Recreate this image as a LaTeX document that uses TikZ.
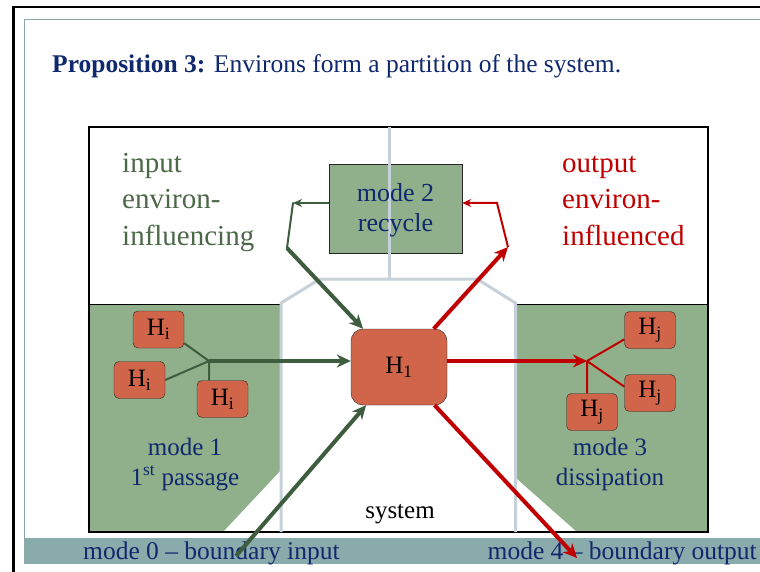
\documentclass[tikz,border=0pt]{standalone}
\usepackage{fontspec}
\setmainfont{Liberation Serif}
\usetikzlibrary{arrows.meta}

\definecolor{envgreen}{RGB}{143,176,139}
\definecolor{hred}{RGB}{209,101,74}
\definecolor{navy}{RGB}{16,40,110}
\definecolor{flowgreen}{RGB}{62,92,62}
\definecolor{txtgreen}{RGB}{76,104,72}
\definecolor{flowred}{RGB}{192,0,0}
\definecolor{bandteal}{RGB}{138,171,171}
\definecolor{sysgrey}{RGB}{198,209,217}
\definecolor{framegrey}{RGB}{140,166,166}

\tikzset{
	hbox/.style={draw=black!85, fill=hred, rounded corners=5pt, minimum width=51pt, minimum height=37pt, inner sep=0pt, font=\fontsize{25}{30}\selectfont},
	modebox/.style={draw=black!85, fill=envgreen, minimum width=133pt, minimum height=89pt},
	flowG/.style={draw=flowgreen, line width=4pt},
	thinG/.style={draw=flowgreen, line width=2pt},
	flowR/.style={draw=flowred, line width=4pt},
	thinR/.style={draw=flowred, line width=2pt},
	syswall/.style={draw=sysgrey, line width=3pt},
	modelabel/.style={text=navy, align=center, inner sep=0pt, anchor=base, font=\fontsize{25}{29.5}\selectfont},
	envlabel/.style={align=left, inner sep=0pt, anchor=base west, font=\fontsize{29}{36.5}\selectfont},
	bigtip/.tip={Stealth[length=14pt, width=13pt]},
	smalltip/.tip={Stealth[length=9pt, width=8pt]}
}

\begin{document}
\begin{tikzpicture}[x=1pt, y=-1pt]
		%%%%% START %%%%%
		\useasboundingbox (0,0) rectangle (760,572);
		
		% slide frame and bottom band
		\draw[line width=2.7pt] (13.5,572) -- (13.5,7) -- (760,7);
		\draw[framegrey, line width=1.5pt] (24.5,538) -- (24.5,19.5) -- (760,19.5);
		\fill[bandteal] (24,538) rectangle (760,564);
		
		\node[anchor=base west, inner sep=0pt, text=navy, font=\fontsize{25.5}{30}\selectfont] (title) at (52,73) {\textbf{Proposition 3:} Environs form a partition of the system.};
		
		% environs
		\fill[envgreen] (89,304) -- (281,304) -- (281,470) -- (223,532) -- (89,532) -- cycle;
		\fill[envgreen] (516,304) -- (708,304) -- (708,532) -- (577,532) -- (516,478) -- cycle;
		\draw[line width=1.2pt] (89,127) rectangle (708,532);
		\draw[line width=1pt] (89,304) -- (281,304) (516,304) -- (708,304);
		
		\node[modebox] (m2) at (395.5,208.5) {};
		
		% system walls
		\draw[syswall] (281,532) -- (281,303) -- (320,279) -- (477,279) -- (515.5,303) -- (515.5,532);
		\draw[syswall] (389.5,127) -- (389.5,279);
		
		\node[modelabel, font=\fontsize{26}{29}\selectfont] (m2lab) at (395.5,231) {mode 2\\recycle};
		\node[envlabel, text=txtgreen] (inlab) at (122,245) {input\\environ-\\influencing};
		\node[envlabel, text=flowred] (outlab) at (562,245) {output\\environ-\\influenced};
		\node[modelabel] (m1lab) at (185,485) {mode 1\\1\textsuperscript{st} passage};
		\node[modelabel] (m3lab) at (610,485) {mode 3\\dissipation};
		\node[anchor=base, inner sep=0pt, font=\fontsize{25}{30}\selectfont] (syslab) at (400,518) {system};
		\node[anchor=base west, inner sep=0pt, text=navy, font=\fontsize{25.5}{30}\selectfont] (m0lab) at (83,559) {mode 0 -- boundary input};
		\node[anchor=base east, inner sep=0pt, text=navy, font=\fontsize{25.5}{30}\selectfont] (m4lab) at (757,559) {mode 4 -- boundary output};
		
		% boxes
		\node[hbox, minimum width=96pt, minimum height=76pt, rounded corners=12pt] (h1) at (399,367) {H\textsubscript{1}};
		\node[hbox] (hi1) at (158.5,329.5) {H\textsubscript{i}};
		\node[hbox] (hi2) at (139.5,380) {H\textsubscript{i}};
		\node[hbox] (hi3) at (222.5,399) {H\textsubscript{i}};
		\node[hbox] (hj1) at (650,330) {H\textsubscript{j}};
		\node[hbox] (hj2) at (650,393) {H\textsubscript{j}};
		\node[hbox] (hj3) at (592,412) {H\textsubscript{j}};
		
		\coordinate (jl) at (209,361);
		\coordinate (jr) at (587,361);
		\coordinate (g1) at (293,203);
		\coordinate (g2) at (287,248);
		\coordinate (r1) at (497,203);
		\coordinate (r2) at (508,247);
		\coordinate (g0) at (236,556);
		\coordinate (r4) at (577,558);
		
		% input side
		\draw[thinG] (hi1.-28) -- (jl) (hi2.east) -- (jl) (hi3.north -| jl) -- (jl);
		\draw[flowG, -bigtip] (jl) -- (jl -| h1.west);
		\draw[thinG, smalltip-] (g1) -- (g1 -| m2.west);
		\draw[thinG, line cap=round] (g1) -- (g2);
		\draw[flowG, -bigtip] (g2) -- (h1);
		\draw[flowG, -bigtip] (g0) -- (h1);
		
		% output side
		\draw[flowR, -bigtip] (h1.east |- jr) -- (jr);
		\draw[thinR] (jr) -- (hj1.200) (jr) -- (hj2.166) (jr) -- (jr |- hj3.north);
		\draw[flowR, -bigtip] (h1) -- (r2);
		\draw[thinR, -smalltip] (r2) -- (r1) -- (r1 -| m2.east);
		\draw[flowR, -bigtip] (h1) -- (r4);
		%%%%% END %%%%%
\end{tikzpicture}
\end{document}
